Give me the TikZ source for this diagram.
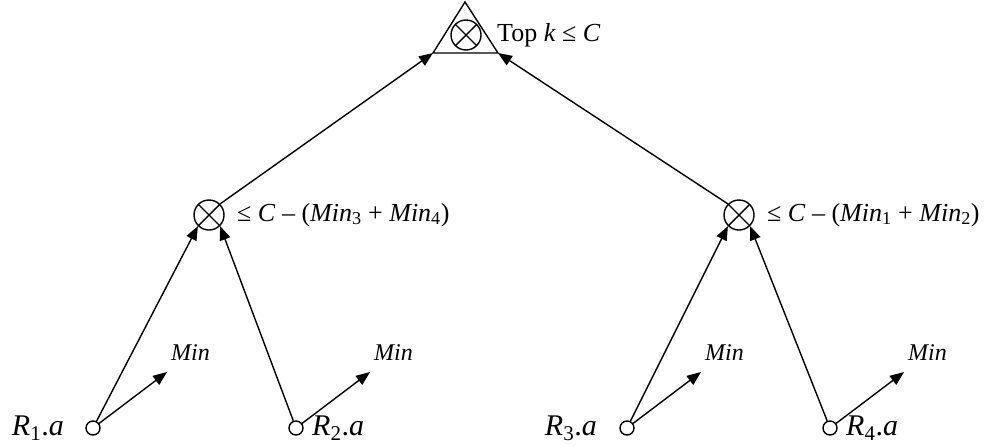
\documentclass[tikz,border=0pt]{standalone}
\usepackage{fontspec}
\setmainfont{Liberation Serif}
\usetikzlibrary{arrows.meta}
\tikzset{
  arr/.style={line width=1.4pt,-{Triangle[length=14pt,width=11pt]}},
  ln/.style={line width=1.4pt},
  otimes/.style={circle,draw,line width=1.4pt,minimum size=30pt,inner sep=0pt,
    path picture={\draw[line width=1.4pt] (path picture bounding box.south west) -- (path picture bounding box.north east)
      (path picture bounding box.north west) -- (path picture bounding box.south east);}},
  leaf/.style={circle,draw,line width=1.4pt,minimum size=14pt,inner sep=0pt},
  lbl/.style={inner sep=0pt,font=\fontsize{26}{30}\selectfont},
  rlbl/.style={inner sep=0pt,font=\fontsize{30}{34}\selectfont},
  minl/.style={inner sep=0pt,font=\fontsize{24}{28}\selectfont\itshape}
}
\begin{document}
\begin{tikzpicture}[x=1pt,y=-1pt]
\useasboundingbox (0,0) rectangle (992,445);
% top triangle
\coordinate (apex) at (465,2);
\coordinate (tbl) at (433,53);
\coordinate (tbr) at (498,53);
\draw[ln,line join=miter] (apex) -- (tbl) -- (tbr) -- cycle;
\node[otimes] (top) at (466,35) {};
\node[lbl,anchor=west] (toplbl) at (497,35) {Top \textit{k} ≤ \textit{C}};
% middle
\node[otimes] (m1) at (209,215) {};
\node[otimes] (m2) at (739,215) {};
\node[lbl,anchor=west] (m1lbl) at (237,215) {≤ \textit{C} – (\textit{Min}\textsubscript{3} + \textit{Min}\textsubscript{4})};
\node[lbl,anchor=west] (m2lbl) at (767,215) {≤ \textit{C} – (\textit{Min}\textsubscript{1} + \textit{Min}\textsubscript{2})};
\draw[arr] (m1.north east) -- (tbl);
\draw[arr] (m2.north west) -- (tbr);
% leaves
\node[leaf] (r1) at (93,428) {};
\node[leaf] (r2) at (296,428) {};
\node[leaf] (r3) at (627,428) {};
\node[leaf] (r4) at (830,428) {};
\node[rlbl,anchor=base east] (r1l) at (64,435) {\textit{R}\textsubscript{1}.\textit{a}};
\node[rlbl,anchor=base west] (r2l) at (312,435) {\textit{R}\textsubscript{2}.\textit{a}};
\node[rlbl,anchor=base east] (r3l) at (597,435) {\textit{R}\textsubscript{3}.\textit{a}};
\node[rlbl,anchor=base west] (r4l) at (846,435) {\textit{R}\textsubscript{4}.\textit{a}};
\draw[arr] (r1) -- (m1.south west);
\draw[arr] (r2) -- (m1.south east);
\draw[arr] (r3) -- (m2.south west);
\draw[arr] (r4) -- (m2.south east);
% Min arrows
\foreach \r/\x in {r1/93,r2/296,r3/627,r4/830}{
  \coordinate (t\r) at (\x+74,372);
  \draw[arr] (\r) -- (t\r);
  \node[minl,anchor=base west] (min\r) at (\x+78,360) {Min};
}
\end{tikzpicture}
\end{document}
